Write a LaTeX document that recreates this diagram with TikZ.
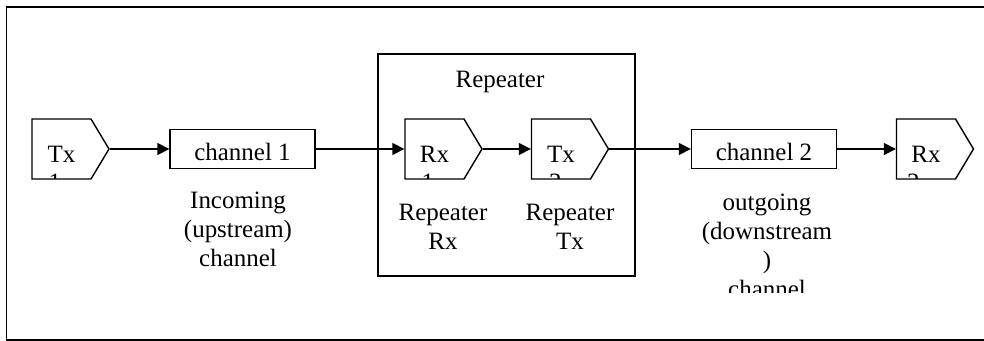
\documentclass[tikz,border=0pt]{standalone}
\usepackage{fontspec}
\setmainfont{Liberation Serif}
\usetikzlibrary{arrows.meta, shapes.symbols}

\tikzset{
  block/.style={draw, line width=0.8pt, minimum width=2.9cm, minimum height=0.78cm,
                inner sep=0pt, text height=0.46cm, text depth=0cm},
  unit/.style={draw, line width=0.8pt, signal, signal to=east, signal from=nowhere,
               signal pointer angle=118, minimum width=1.54cm, minimum height=1.2cm,
               inner sep=0pt, text height=0.56cm, text depth=0cm},
  frag/.style 2 args={path picture={\node[rectangle, draw=none, minimum size=0pt,
               text height=, text depth=, anchor=base west, inner sep=0pt]
               at ([xshift=#2, yshift=-0.84cm]path picture bounding box.west) {#1};}},
  frame/.style={draw, line width=0.8pt, minimum width=5.14cm, minimum height=4.44cm},
  caption/.style={align=center, anchor=north, inner sep=0pt},
  link/.style={-{Triangle[length=0.24cm, width=0.24cm]}, line width=0.8pt}
}

\begin{document}
\begin{tikzpicture}[x=0.02cm, y=-0.02cm, font=\fontsize{14.2}{16.4}\selectfont]
  \useasboundingbox (0,0) rectangle (984,341);
  \draw[line width=0.8pt] (984,7) -- (6.5,7) -- (6.5,340) -- (984,340);

  \node[frame] (rep) at (506.5,165) {};
  \node[caption] (reptitle) at (500,70.5) {Repeater};

  \node[unit, frag={1}{0.32cm}] (tx1) at (61.5,149) {Tx};
  \node[block] (ch1) at (242.5,149) {channel 1};
  \node[unit, frag={1}{0.32cm}] (rx1) at (434.5,149) {Rx};
  \node[unit, frag={2}{0.34cm}] (tx2) at (561,149) {Tx};
  \node[block] (ch2) at (764,149) {channel 2};
  \node[unit, frag={2}{0.2cm}] (rx2) at (926,149) {Rx};

  \node[caption] (upcap) at (238,192) {Incoming\\(upstream)\\channel};
  \node[caption] (rxcap) at (443,203.5) {Repeater\\Rx};
  \node[caption] (txcap) at (570,203.5) {Repeater\\Tx};
  \begin{scope}
    \clip (680,180) rectangle (860,292);
    \node[caption] (downcap) at (767,194) {outgoing\\(downstream\\)\\channel};
  \end{scope}

  \draw[link] (tx1.east) -- (ch1.west);
  \draw[link] (ch1.east) -- (rx1.west);
  \draw[link] (rx1.east) -- (tx2.west);
  \draw[link] (tx2.east) -- (ch2.west);
  \draw[link] (ch2.east) -- (rx2.west);
\end{tikzpicture}
\end{document}
